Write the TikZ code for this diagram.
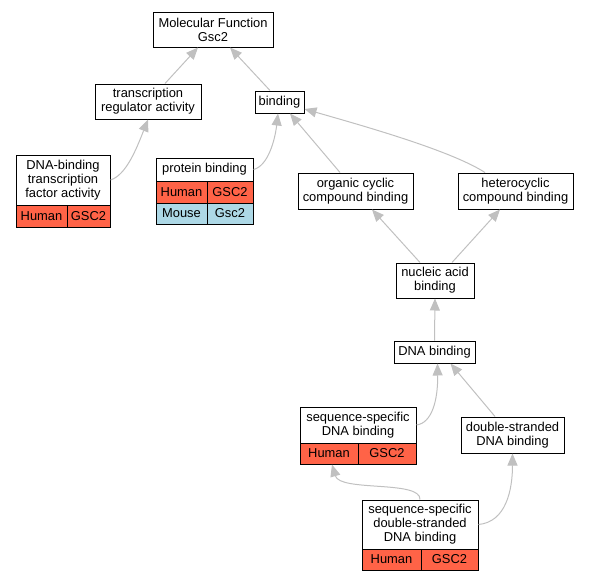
\documentclass[tikz,border=0pt]{standalone}
\usepackage{fontspec}
\setmainfont{Liberation Sans}
\usetikzlibrary{arrows.meta}
\definecolor{tomatoc}{HTML}{FF6347}
\definecolor{lblue}{HTML}{ADD8E6}
\definecolor{edgec}{HTML}{C0C0C0}
\tikzset{
  box/.style={draw=black, line width=1pt, fill=white, inner sep=0pt, align=center,
    font=\fontsize{12.9}{14}\selectfont},
  hum/.style={box, fill=tomatoc},
  mou/.style={box, fill=lblue},
  edge/.style={draw=edgec, line width=1pt, -{Triangle[length=12pt,width=10pt,fill=edgec]}},
}
\begin{document}
\begin{tikzpicture}[x=1pt,y=-1pt]
\useasboundingbox (0,0) rectangle (589,581);
% nodes
\node[box, minimum width=120pt, minimum height=35pt] (mf) at (213,29.5) {Molecular Function\\Gsc2};
\node[box, minimum width=106pt, minimum height=35pt] (tr) at (148,101.5) {transcription\\regulator activity};
\node[box, minimum width=49pt, minimum height=22pt] (bind) at (279.5,102) {binding};
% DNA-binding TF
\node[box, minimum width=94pt, minimum height=50pt] (dtf) at (63,180) {DNA-binding\\transcription\\factor activity};
\node[hum, minimum width=51pt, minimum height=22pt] (dtfh) at (41.5,216) {Human};
\node[hum, minimum width=43pt, minimum height=22pt] (dtfg) at (88.5,216) {GSC2};
% protein binding
\node[box, minimum width=97pt, minimum height=23pt] (pb) at (204.5,169.5) {protein binding};
\node[hum, minimum width=51pt, minimum height=22pt] (pbh) at (181.5,192) {Human};
\node[hum, minimum width=46pt, minimum height=22pt] (pbg) at (230,192) {GSC2};
\node[mou, minimum width=51pt, minimum height=21pt] (pbm) at (181.5,213.5) {Mouse};
\node[mou, minimum width=46pt, minimum height=21pt] (pbmg) at (230,213.5) {Gsc2};
% others
\node[box, minimum width=115pt, minimum height=36pt] (oc) at (355.5,191) {organic cyclic\\compound binding};
\node[box, minimum width=115pt, minimum height=36pt] (hc) at (515.5,191) {heterocyclic\\compound binding};
\node[box, minimum width=78pt, minimum height=35pt] (na) at (435,280.5) {nucleic acid\\binding};
\node[box, minimum width=81pt, minimum height=22pt] (dna) at (434.5,352) {DNA binding};
% sequence-specific DNA binding
\node[box, minimum width=116pt, minimum height=36pt] (ss) at (358,425) {sequence-specific\\DNA binding};
\node[hum, minimum width=58pt, minimum height=21pt] (ssh) at (329,453.5) {Human};
\node[hum, minimum width=58pt, minimum height=21pt] (ssg) at (387,453.5) {GSC2};
\node[box, minimum width=103pt, minimum height=36pt] (ds) at (512.5,435) {double-stranded\\DNA binding};
% ssds
\node[box, minimum width=116pt, minimum height=49pt] (ssds) at (420,524.5) {sequence-specific\\double-stranded\\DNA binding};
\node[hum, minimum width=59pt, minimum height=21pt] (ssdsh) at (391.5,559.5) {Human};
\node[hum, minimum width=57pt, minimum height=21pt] (ssdsg) at (449.5,559.5) {GSC2};
% edges
\draw[edge] ([xshift=17pt]tr.north) -- ([xshift=-15pt]mf.south);
\draw[edge] ([xshift=-9.5pt]bind.north) -- ([xshift=17pt]mf.south);
\draw[edge] (dtf.east) .. controls (126,175) and (136,150) .. (tr.south);
\draw[edge] (pb.east) .. controls (268,166) and (275,140) .. ([xshift=-1.5pt]bind.south);
\draw[edge] ([xshift=-15.5pt]oc.north) -- ([xshift=10.5pt]bind.south);
\draw[edge] ([xshift=-30.5pt]hc.north) .. controls (450,150) and (360,125) .. ([yshift=-7pt]bind.east);
\draw[edge] ([xshift=-15pt]na.north) -- ([xshift=16.5pt]oc.south);
\draw[edge] ([xshift=17pt]na.north) -- ([xshift=-15.5pt]hc.south);
\draw[edge] (dna.north) -- (na.south);
\draw[edge] (ss.east) .. controls (432,423) and (438,400) .. ([xshift=3pt]dna.south);
\draw[edge] ([xshift=-17.5pt]ds.north) -- ([xshift=16pt]dna.south);
\draw[edge] (ssds.north) .. controls (421,480) and (340,492) .. ([xshift=3pt]ssh.south);
\draw[edge] (ssds.east) .. controls (506,522) and (512.5,490) .. (ds.south);
\end{tikzpicture}
\end{document}
